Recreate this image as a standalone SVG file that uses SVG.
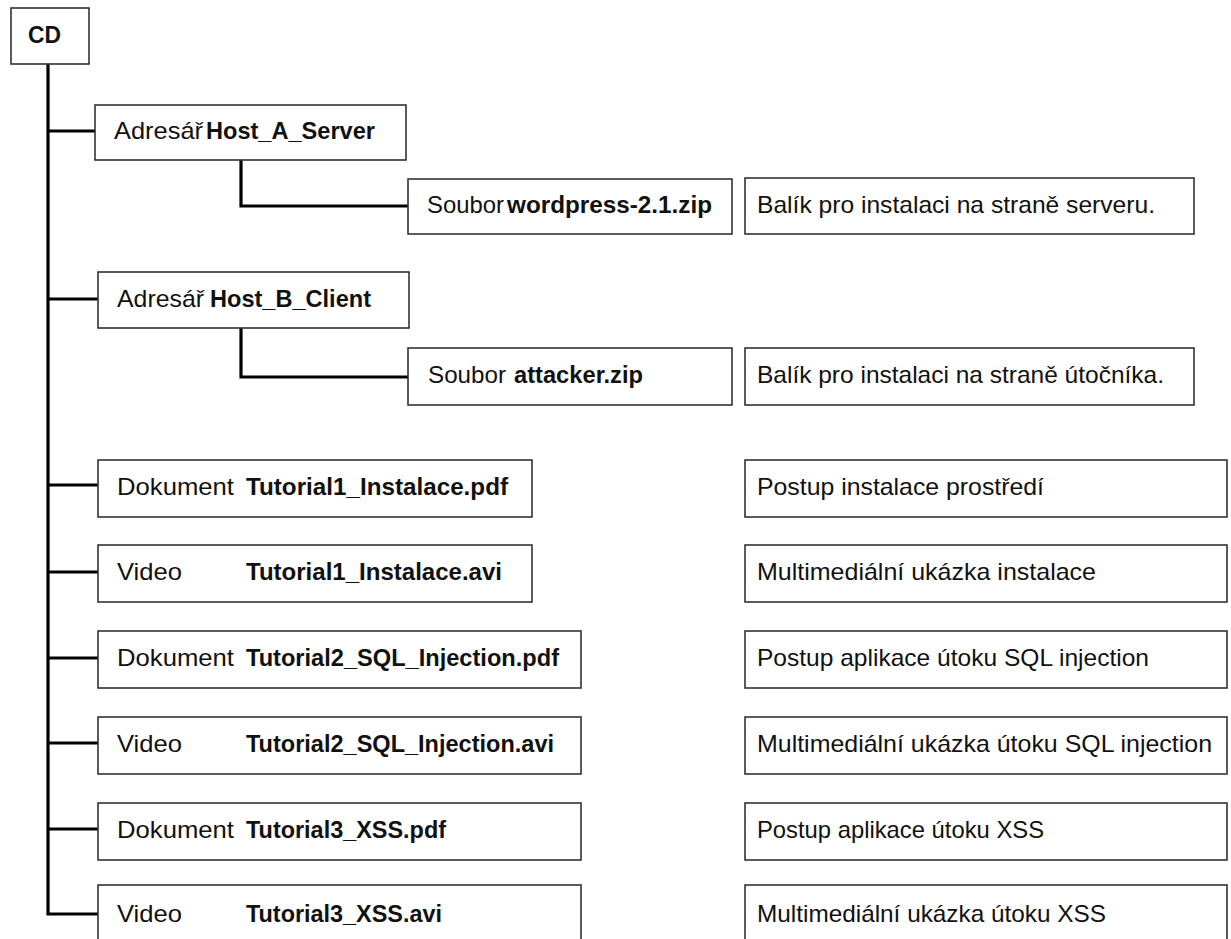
<svg xmlns="http://www.w3.org/2000/svg" width="1231" height="939" viewBox="0 0 1231 939">
<style>
.box{fill:#fff;stroke:#333;stroke-width:1.6}
.con{fill:none;stroke:#000;stroke-width:3.2;stroke-linejoin:miter}
text{font-family:"Liberation Sans",Arial,sans-serif;font-size:24px;fill:#111}
.b{font-weight:bold}
</style>
<rect width="1231" height="939" fill="#fff"/>
<g id="connectors">
<path class="con" d="M48 64 V914 H98"/>
<path class="con" d="M48 131 H95"/>
<path class="con" d="M241 160 V206 H408"/>
<path class="con" d="M48 299 H98"/>
<path class="con" d="M241 328 V377 H408"/>
<path class="con" d="M48 485 H98"/>
<path class="con" d="M48 572 H98"/>
<path class="con" d="M48 658 H98"/>
<path class="con" d="M48 743 H98"/>
<path class="con" d="M48 829 H98"/>
</g>
<g id="cd"><rect class="box" x="11" y="8" width="78" height="56"/><text class="b" x="28" y="43" textLength="33" lengthAdjust="spacingAndGlyphs">CD</text></g>
<g id="hostA"><rect class="box" x="95" y="105" width="311" height="55"/><text x="114" y="139" textLength="89" lengthAdjust="spacingAndGlyphs">Adresář</text><text class="b" x="206" y="139" textLength="169" lengthAdjust="spacingAndGlyphs">Host_A_Server</text></g>
<g id="wordpress"><rect class="box" x="408" y="179" width="324" height="55"/><text x="427" y="213" textLength="77" lengthAdjust="spacingAndGlyphs">Soubor</text><text class="b" x="507" y="213" textLength="205" lengthAdjust="spacingAndGlyphs">wordpress-2.1.zip</text></g>
<g id="desc-server"><rect class="box" x="745" y="178" width="449" height="56"/><text x="757" y="213" textLength="398" lengthAdjust="spacingAndGlyphs">Balík pro instalaci na straně serveru.</text></g>
<g id="hostB"><rect class="box" x="98" y="272" width="311" height="56"/><text x="117" y="307" textLength="87" lengthAdjust="spacingAndGlyphs">Adresář</text><text class="b" x="210" y="307" textLength="161" lengthAdjust="spacingAndGlyphs">Host_B_Client</text></g>
<g id="attacker"><rect class="box" x="408" y="348" width="324" height="57"/><text x="428" y="383" textLength="78" lengthAdjust="spacingAndGlyphs">Soubor</text><text class="b" x="514" y="383" textLength="129" lengthAdjust="spacingAndGlyphs">attacker.zip</text></g>
<g id="desc-attacker"><rect class="box" x="745" y="348" width="449" height="57"/><text x="757" y="383" textLength="407" lengthAdjust="spacingAndGlyphs">Balík pro instalaci na straně útočníka.</text></g>
<g id="doc1"><rect class="box" x="98" y="460" width="434" height="57"/><text x="117" y="495" textLength="117" lengthAdjust="spacingAndGlyphs">Dokument</text><text class="b" x="246" y="495" textLength="262" lengthAdjust="spacingAndGlyphs">Tutorial1_Instalace.pdf</text></g>
<g id="desc-doc1"><rect class="box" x="745" y="460" width="482" height="57"/><text x="757" y="495" textLength="287" lengthAdjust="spacingAndGlyphs">Postup instalace prostředí</text></g>
<g id="vid1"><rect class="box" x="98" y="545" width="434" height="57"/><text x="117" y="580" textLength="65" lengthAdjust="spacingAndGlyphs">Video</text><text class="b" x="246" y="580" textLength="256" lengthAdjust="spacingAndGlyphs">Tutorial1_Instalace.avi</text></g>
<g id="desc-vid1"><rect class="box" x="745" y="545" width="482" height="57"/><text x="757" y="580" textLength="339" lengthAdjust="spacingAndGlyphs">Multimediální ukázka instalace</text></g>
<g id="doc2"><rect class="box" x="98" y="631" width="483" height="57"/><text x="117" y="666" textLength="117" lengthAdjust="spacingAndGlyphs">Dokument</text><text class="b" x="246" y="666" textLength="313" lengthAdjust="spacingAndGlyphs">Tutorial2_SQL_Injection.pdf</text></g>
<g id="desc-doc2"><rect class="box" x="745" y="631" width="482" height="57"/><text x="757" y="666" textLength="392" lengthAdjust="spacingAndGlyphs">Postup aplikace útoku SQL injection</text></g>
<g id="vid2"><rect class="box" x="98" y="717" width="483" height="57"/><text x="117" y="752" textLength="65" lengthAdjust="spacingAndGlyphs">Video</text><text class="b" x="246" y="752" textLength="308" lengthAdjust="spacingAndGlyphs">Tutorial2_SQL_Injection.avi</text></g>
<g id="desc-vid2"><rect class="box" x="745" y="717" width="482" height="57"/><text x="757" y="752" textLength="455" lengthAdjust="spacingAndGlyphs">Multimediální ukázka útoku SQL injection</text></g>
<g id="doc3"><rect class="box" x="98" y="803" width="483" height="57"/><text x="117" y="838" textLength="117" lengthAdjust="spacingAndGlyphs">Dokument</text><text class="b" x="246" y="838" textLength="200" lengthAdjust="spacingAndGlyphs">Tutorial3_XSS.pdf</text></g>
<g id="desc-doc3"><rect class="box" x="745" y="803" width="482" height="57"/><text x="757" y="838" textLength="287" lengthAdjust="spacingAndGlyphs">Postup aplikace útoku XSS</text></g>
<g id="vid3"><rect class="box" x="98" y="885" width="483" height="70"/><text x="117" y="922" textLength="65" lengthAdjust="spacingAndGlyphs">Video</text><text class="b" x="246" y="922" textLength="196" lengthAdjust="spacingAndGlyphs">Tutorial3_XSS.avi</text></g>
<g id="desc-vid3"><rect class="box" x="745" y="885" width="482" height="70"/><text x="757" y="922" textLength="349" lengthAdjust="spacingAndGlyphs">Multimediální ukázka útoku XSS</text></g>
</svg>
